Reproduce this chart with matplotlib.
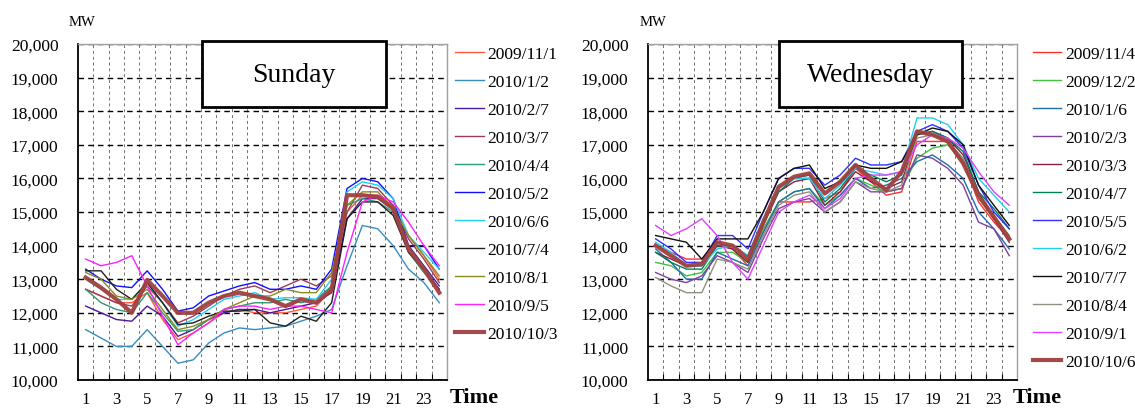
import matplotlib
matplotlib.use("Agg")
import matplotlib.pyplot as plt
from matplotlib.patches import Rectangle
from matplotlib.ticker import FixedLocator, FuncFormatter

plt.rcParams['font.family'] = ['Liberation Serif', 'DejaVu Serif']

hours = list(range(1, 25))
hour_labels = [str(h) for h in range(1, 25, 2)]

# Sunday load curves (MW)
sun_labels = ['2009/11/1', '2010/1/2', '2010/2/7', '2010/3/7', '2010/4/4', '2010/5/2',
              '2010/6/6', '2010/7/4', '2010/8/1', '2010/9/5', '2010/10/3']
sun_20091101 = [12700, 12500, 12300, 12300, 12600, 11800, 11200, 11400, 11700, 12000, 12100, 12000,
                12000, 12000, 12100, 12200, 12700, 15000, 15500, 15500, 15200, 14300, 13700, 13000]
sun_20100102 = [11500, 11250, 11000, 11000, 11500, 11000, 10500, 10600, 11100, 11400, 11550, 11500,
                11550, 11600, 11750, 11900, 12100, 13400, 14600, 14500, 14000, 13300, 12900, 12300]
sun_20100207 = [12200, 12000, 11800, 11750, 12200, 11900, 11300, 11500, 11800, 12000, 12100, 12100,
                12000, 12100, 12200, 12300, 12600, 14800, 15400, 15400, 15100, 14000, 13400, 12800]
sun_20100307 = [12700, 12500, 12300, 12200, 12800, 12300, 11700, 11900, 12200, 12500, 12700, 12800,
                12600, 12800, 13000, 12800, 13100, 15000, 15800, 15700, 15200, 14200, 13600, 12900]
sun_20100404 = [12700, 12300, 12100, 12000, 12600, 12000, 11450, 11500, 11800, 12100, 12200, 12300,
                12300, 12400, 12300, 12400, 12800, 15200, 15400, 15300, 15000, 13800, 13200, 12700]
sun_20100502 = [13300, 13000, 12800, 12750, 13250, 12700, 12050, 12150, 12500, 12650, 12800, 12900,
                12700, 12700, 12800, 12700, 13300, 15700, 16000, 15900, 15400, 14000, 14000, 13300]
sun_20100606 = [13000, 12700, 12400, 12400, 12900, 12300, 11600, 11800, 12100, 12400, 12500, 12600,
                12400, 12450, 12450, 12400, 13000, 15600, 15900, 15800, 15400, 14300, 13800, 13300]
sun_20100704 = [13250, 13250, 12700, 12400, 12900, 12300, 11650, 11700, 11900, 12050, 12050, 12100,
                11700, 11600, 11900, 11750, 12300, 14800, 15300, 15300, 14900, 13800, 13300, 12700]
sun_20100801 = [13200, 13000, 12500, 12400, 12700, 12100, 11500, 11600, 11800, 12100, 12300, 12500,
                12500, 12700, 12600, 12600, 13200, 15200, 15600, 15600, 15100, 14300, 13700, 13100]
sun_20100905 = [13600, 13400, 13500, 13700, 12800, 11900, 11050, 11400, 11700, 12100, 12200, 12200,
                12100, 12200, 12200, 12100, 12000, 13800, 15300, 15500, 15300, 14700, 14000, 13400]
sun_20101003 = [13050, 12750, 12400, 12000, 12980, 12500, 12000, 12000, 12300, 12500, 12600, 12500,
                12400, 12200, 12400, 12300, 12700, 15500, 15500, 15450, 15100, 13900, 13300, 12600]

# Wednesday load curves (MW)
wed_labels = ['2009/11/4', '2009/12/2', '2010/1/6', '2010/2/3', '2010/3/3', '2010/4/7',
              '2010/5/5', '2010/6/2', '2010/7/7', '2010/8/4', '2010/9/1', '2010/10/6']
wed_20091104 = [14000, 13800, 13600, 13600, 14100, 13900, 13400, 14400, 15300, 15300, 15300, 15400,
                15600, 16300, 15900, 15500, 15600, 17100, 17100, 17100, 16500, 15300, 14700, 14200]
wed_20091202 = [13500, 13400, 13100, 13200, 13800, 13800, 13500, 14500, 15300, 15600, 15700, 15200,
                15500, 16000, 15800, 15600, 15700, 16600, 16900, 17000, 16500, 15400, 14800, 14300]
wed_20100106 = [13900, 13500, 13000, 13000, 13800, 13600, 13400, 14400, 15300, 15600, 15700, 15100,
                15500, 16000, 15700, 15800, 16000, 16500, 16700, 16400, 16000, 15000, 14500, 13900]
wed_20100203 = [13200, 13000, 12900, 13100, 13700, 13500, 13200, 14200, 15100, 15300, 15400, 15000,
                15300, 15900, 15600, 15600, 15700, 16700, 16600, 16300, 15800, 14700, 14500, 13700]
wed_20100303 = [13800, 13600, 13400, 13400, 14000, 13900, 13500, 14600, 15600, 15900, 16000, 15200,
                15600, 16200, 15900, 15700, 15900, 17300, 17400, 17200, 16700, 15600, 14800, 14100]
wed_20100407 = [13800, 13500, 13300, 13300, 14000, 14000, 13700, 14700, 15600, 16000, 16100, 15300,
                15700, 16300, 16100, 15900, 16100, 17300, 17400, 17200, 16800, 15600, 15100, 14500]
wed_20100505 = [14200, 13900, 13500, 13500, 14300, 14300, 13900, 15000, 16000, 16300, 16300, 15800,
                16100, 16600, 16400, 16400, 16500, 17400, 17600, 17400, 16900, 15800, 15000, 14500]
wed_20100602 = [14100, 13800, 13400, 13400, 13900, 14000, 13700, 14800, 15700, 16000, 16000, 15400,
                15800, 16300, 16200, 16100, 16200, 17800, 17800, 17600, 17000, 16000, 15500, 15000]
wed_20100707 = [14300, 14200, 14100, 13600, 14200, 14200, 14200, 15000, 16000, 16300, 16400, 15700,
                15900, 16400, 16300, 16300, 16500, 17300, 17500, 17400, 17000, 15800, 15200, 14600]
wed_20100804 = [13050, 12800, 12600, 12600, 13600, 13500, 13300, 14300, 15200, 15500, 15600, 15000,
                15300, 15900, 15700, 15600, 15800, 17200, 17300, 17100, 16600, 15400, 14900, 14300]
wed_20100901 = [14600, 14300, 14500, 14800, 14300, 13500, 13000, 14000, 15000, 15300, 15500, 15100,
                15400, 16000, 16100, 16100, 16200, 17000, 17300, 17200, 16900, 16200, 15600, 15200]
wed_20101006 = [14000, 13700, 13400, 13450, 14100, 14000, 13600, 14700, 15750, 16050, 16150, 15550,
                15900, 16400, 16000, 15650, 16200, 17400, 17300, 17100, 16450, 15500, 14850, 14200]

sun_series = [sun_20091101, sun_20100102, sun_20100207, sun_20100307, sun_20100404, sun_20100502,
              sun_20100606, sun_20100704, sun_20100801, sun_20100905, sun_20101003]
wed_series = [wed_20091104, wed_20091202, wed_20100106, wed_20100203, wed_20100303, wed_20100407,
              wed_20100505, wed_20100602, wed_20100707, wed_20100804, wed_20100901, wed_20101006]

sun_colors = ['#ff5a3c', '#3a8cc0', '#4a1a9a', '#a03a5a', '#2e9a70', '#1010ff',
              '#20d0f0', '#202020', '#8a8a20', '#ff20ff', '#a04040']
wed_colors = ['#ff3030', '#40c040', '#1f6faf', '#8040a0', '#8b2040', '#00805a',
              '#3030ff', '#20d0f0', '#101010', '#909080', '#e040ff', '#a04040']

THICK = '#a04040'


def style_axes(ax):
    ax.set_xlim(0.5, 24.5)
    ax.set_ylim(10000, 20000)
    ax.xaxis.set_major_locator(FixedLocator(range(1, 25, 2)))
    ax.xaxis.set_minor_locator(FixedLocator([h + 0.5 for h in range(1, 24)]))
    ax.set_xticklabels(hour_labels)
    ax.yaxis.set_major_locator(FixedLocator(range(10000, 20001, 1000)))
    ax.yaxis.set_major_formatter(FuncFormatter(lambda v, p: '{:,}'.format(int(v))))
    ax.tick_params(axis='x', which='major', length=0, pad=8, labelsize=12)
    ax.tick_params(axis='x', which='minor', direction='in', length=4, width=0.8)
    ax.tick_params(axis='y', length=0, pad=14, labelsize=12.5)
    ax.grid(True, axis='y', which='major', color='black', linestyle=(0, (4, 3)), linewidth=1.0)
    ax.grid(True, axis='x', which='minor', color='#707070', linestyle=(0, (3, 3)), linewidth=0.7)
    ax.set_axisbelow(True)
    for s in ('top', 'right'):
        ax.spines[s].set_color('#a0a0a0')
        ax.spines[s].set_linewidth(1.0)
    for s in ('left', 'bottom'):
        ax.spines[s].set_color('black')
        ax.spines[s].set_linewidth(1.3)


def draw_panel(ax, series, labels, colors, title, box_x0, box_x1, legend_x):
    style_axes(ax)
    for vals, lab, col in zip(series[:-1], labels[:-1], colors[:-1]):
        ax.plot(hours, vals, color=col, linewidth=1.0, label=lab)
    ax.plot(hours, series[-1], color=THICK, linewidth=3.0, label=labels[-1], alpha=0.95)
    ax.add_patch(Rectangle((box_x0, 0.8125), box_x1 - box_x0, 0.195, transform=ax.transAxes,
                           facecolor='white', edgecolor='black', linewidth=2.0,
                           clip_on=False, zorder=5))
    ax.text((box_x0 + box_x1) / 2, 0.91, title, transform=ax.transAxes, fontsize=20,
            ha='center', va='center', zorder=6)
    ax.legend(loc='upper left', bbox_to_anchor=(legend_x, 0.885), bbox_transform=fig.transFigure,
              frameon=False, fontsize=12.5, handlelength=1.65, handletextpad=0.2,
              labelspacing=0.68, borderaxespad=0, borderpad=0)


fig = plt.figure(figsize=(11.35, 4.10), dpi=100)
ax1 = fig.add_axes([0.0687, 0.0707, 0.3251, 0.8195])
ax2 = fig.add_axes([0.5709, 0.0707, 0.3251, 0.8195])

draw_panel(ax1, sun_series, sun_labels, sun_colors, 'Sunday', 0.336, 0.835, 0.401)
draw_panel(ax2, wed_series, wed_labels, wed_colors, 'Wednesday', 0.355, 0.851, 0.910)

fig.text(0.072, 0.945, 'MW', fontsize=10.5, ha='center', va='center')
fig.text(0.575, 0.945, 'MW', fontsize=10.5, ha='center', va='center')
fig.text(0.396, 0.005, 'Time', fontsize=16, fontweight='bold', ha='left', va='bottom')
fig.text(0.892, 0.005, 'Time', fontsize=16, fontweight='bold', ha='left', va='bottom')

fig.savefig('out.png', dpi=100)
